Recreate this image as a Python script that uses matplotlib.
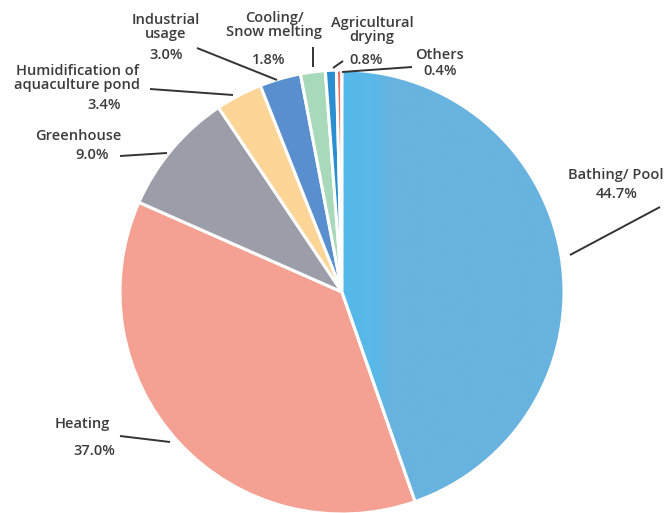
import matplotlib.pyplot as plt
import numpy as np
from matplotlib.colors import LinearSegmentedColormap
from matplotlib.patches import Wedge

# geothermal direct use share by category
labels = ['Bathing/ Pool', 'Heating', 'Greenhouse', 'Humidification of\naquaculture pond',
          'Industrial\nusage', 'Cooling/\nSnow melting', 'Agricultural\ndrying', 'Others']
shares = [44.7, 37.0, 9.0, 3.4, 3.0, 1.8, 0.8, 0.4]
colors = ['#68b3df', '#f4a194', '#9b9ea8', '#fcd597', '#5a8fcf', '#a9d9bb', '#2b8ed0', '#ef6c5c']

W, H = 667, 513
txt_color = '#3c3c3c'
font = dict(family=['Open Sans', 'DejaVu Sans'], weight='semibold', fontsize=10.5, color=txt_color)

fig = plt.figure(figsize=(W / 100, H / 100), dpi=100)
ax = fig.add_axes([0, 0, 1, 1])

cx, cy, r = 342, H - 292, 222
wedges, _ = ax.pie(shares, colors=colors, startangle=90, counterclock=False,
                   center=(cx, cy), radius=r,
                   wedgeprops=dict(edgecolor='white', linewidth=2.2))

# narrow cyan band along the left side of the big blue slice
grad = LinearSegmentedColormap.from_list(
    'bath', [(0, '#55b9ea'), (0.14, '#59b8e7'), (0.22, '#68b3df'), (1, '#68b3df')])
g = np.linspace(0, 1, 256).reshape(1, -1)
im = ax.imshow(g, cmap=grad, extent=(cx, cx + r, cy - r, cy + r), aspect='auto', zorder=1.5)
im.set_clip_path(wedges[0])
wedges[0].set_zorder(1.4)
edge = Wedge((cx, cy), r, wedges[0].theta1, wedges[0].theta2,
             facecolor='none', edgecolor='white', linewidth=2.2, zorder=1.6)
ax.add_patch(edge)

ax.set_xlim(0, W)
ax.set_ylim(0, H)
ax.set_aspect('equal')
ax.axis('off')


def put(x, y, s, **kw):
    ax.text(x, H - y, s, ha='center', va='center', **font, **kw)


def line(x0, y0, x1, y1):
    ax.plot([x0, x1], [H - y0, H - y1], color='#333333', lw=1.4, solid_capstyle='butt')


pct = ['%.1f%%' % v for v in shares]

put(616, 175, labels[0])
put(617, 194, pct[0])
line(570, 255, 660, 207)

put(82, 424, labels[1])
put(94, 451, pct[1])
line(120, 436, 170, 442)

put(78, 136, labels[2])
put(92, 155, pct[2])
line(120, 156, 167, 153)

put(77, 78, labels[3], linespacing=1.05)
put(104, 105, pct[3])
line(150, 89, 233, 95)

put(166, 27, labels[4], linespacing=1.05)
put(166, 55, pct[4])
line(197, 48, 277, 80)

put(274, 25, labels[5], linespacing=1.05)
put(269, 60, pct[5])
line(313, 47, 313, 67)

put(372, 30, labels[6], linespacing=1.05)
put(366, 60, pct[6])
line(333, 68, 343, 61)

put(440, 55, labels[7])
put(440, 71, pct[7])
line(342, 72, 412, 67)

fig.savefig('out.png', dpi=100, facecolor='white')
